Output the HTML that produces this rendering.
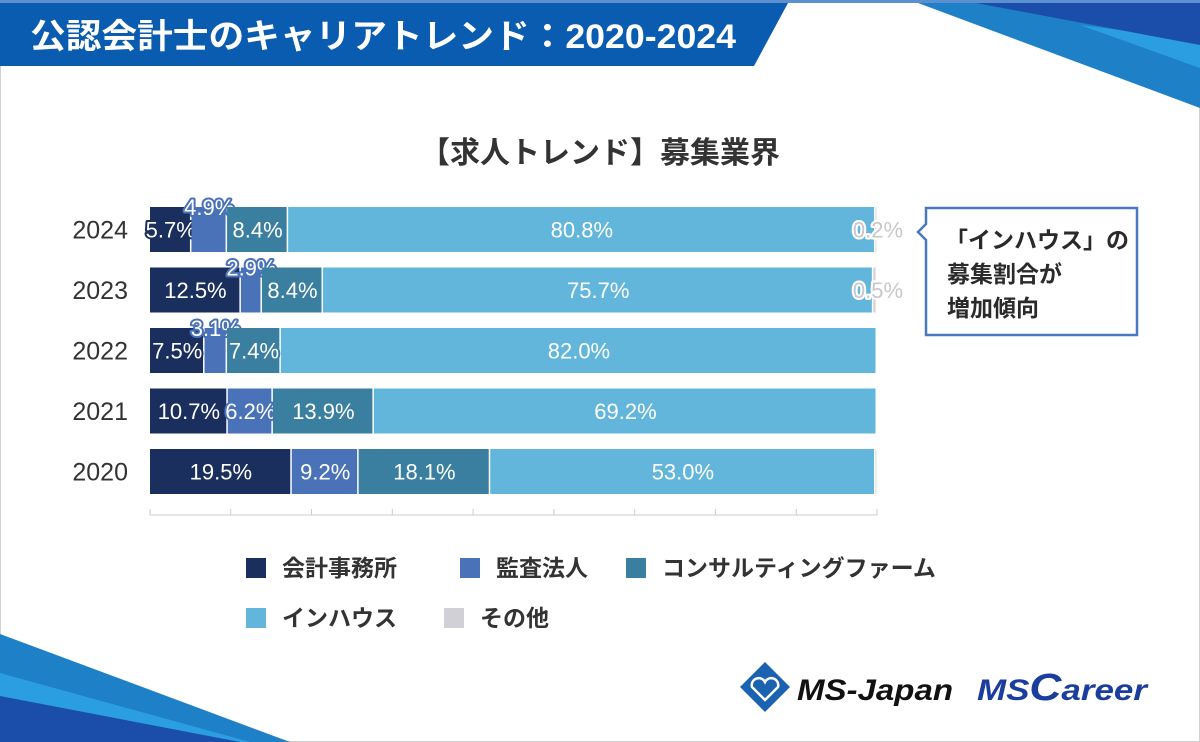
<!DOCTYPE html>
<html><head><meta charset="utf-8"><style>
html,body{margin:0;padding:0;background:#fff}
svg{display:block}
text{font-family:"Liberation Sans","Noto Sans CJK JP",sans-serif}
</style></head><body>
<svg width="1200" height="742" viewBox="0 0 1200 742">
<rect x="0.5" y="0.5" width="1199" height="741" fill="#fff" stroke="#d0d0d0"/>
<g>
<polygon points="910,0 1200,0 1200,108" fill="#1e80c6"/>
<polygon points="1080,25 1200,40 1200,68" fill="#2a9ee0"/>
<polygon points="960,0 1200,0 1200,45" fill="#1b4eaa"/>
</g>
<g>
<polygon points="0,634 290,742 0,742" fill="#1e80c6"/>
<polygon points="0,673 250,742 0,742" fill="#2a9ee0"/>
<polygon points="0,696 240,742 0,742" fill="#1b4eaa"/>
</g>
<rect x="0" y="0" width="1200" height="3" fill="#5b8fd0"/>
<polygon points="0,3 788,3 754,66 0,66" fill="#0a5cb0"/>
<text x="30" y="48" font-size="34" font-weight="bold" fill="#fff" textLength="706" lengthAdjust="spacingAndGlyphs">公認会計士のキャリアトレンド：2020-2024</text>
<text x="600" y="163" font-size="30" font-weight="bold" fill="#333" text-anchor="middle">【求人トレンド】募集業界</text>
<g id="axis"></g>
<g id="bars"></g>
<g>
<path d="M926,208 L1137,208 L1137,335 L926,335 L926,240 L918,232 L926,224 Z" fill="#fff" stroke="#4a78c0" stroke-width="2.5"/>
<text font-size="23" font-weight="bold" fill="#2a2a2a"><tspan x="945" y="248">「インハウス」の</tspan><tspan x="947" y="282">募集割合が</tspan><tspan x="947" y="316">増加傾向</tspan></text>
</g>
<g id="legend"></g>
<g>
<polygon points="765,662 790,687 765,712 740,687" fill="#1b62b0"/>
<path d="M765,700 L752,687 a7,7 0 0 1 13,-5 a7,7 0 0 1 13,5 Z" fill="none" stroke="#fff" stroke-width="2.5"/>
<text x="797" y="700" font-size="30" font-weight="bold" font-style="italic" fill="#111" textLength="156" lengthAdjust="spacingAndGlyphs">MS-Japan</text>
</g>
<text x="977" y="700" font-size="30" font-weight="bold" font-style="italic" fill="#1b3e9e" textLength="170" lengthAdjust="spacingAndGlyphs">MS<tspan font-size="38">C</tspan>areer</text>
<script>
const years=["2024","2023","2022","2021","2020"];
const kaikei=[5.7,12.5,7.5,10.7,19.5];
const kansa=[4.9,2.9,3.1,6.2,9.2];
const consul=[8.4,8.4,7.4,13.9,18.1];
const inhouse=[80.8,75.7,82.0,69.2,53.0];
const other=[0.2,0.5,0,0,0.2];
const otherLabels=["0.2%","0.5%","","",""];
const seriesNames=["会計事務所","監査法人","コンサルティングファーム","インハウス","その他"];
const colors=["#1b2f5e","#4a72b8","#3a7fa0","#62b6dc","#d0d0d6"];
const NS="http://www.w3.org/2000/svg";
const X0=150,X1=877;
const xs=v=>X0+(X1-X0)*v/100;
const ys=i=>207+i*60.5;
const BH=45;
function mk(t,a,p){const e=document.createElementNS(NS,t);for(const k in a)e.setAttribute(k,a[k]);p.appendChild(e);return e;}
const axis=document.getElementById('axis');
const al=mk('line',{x1:X0,x2:X1,y1:515,y2:515,stroke:'#ccc','stroke-width':1},axis);


for(let i=0;i<=9;i++){const x=X0+(X1-X0)*i/9;const t=mk('line',{x1:x,x2:x,y1:509,y2:515,stroke:'#ccc'},axis);

}
const bars=document.getElementById('bars');
const series=[kaikei,kansa,consul,inhouse,other];
years.forEach((y,i)=>{
 const yl=mk('text',{x:128,y:ys(i)+BH/2+9,'font-size':25,fill:'#333','text-anchor':'end'},bars);
 yl.textContent=y;
 
 
 let cum=0;
 series.forEach((s,k)=>{
  const v=s[i];if(v<=0){return;}
  const x=xs(cum),w=xs(cum+v)-x;
  const r=mk('rect',{x:x,y:ys(i),width:Math.max(w-1.5,0.8),height:BH,fill:colors[k]},bars);
  
  
  let label=null,cx=x+w/2,cy=ys(i)+BH/2+8,fill='#fff',stroke=null;
  if(k<4){label=v.toFixed(1)+'%';
    if(v<5&&k===1){cy=ys(i)+8;stroke=colors[1];}
    else if(v<9){stroke=colors[k];}
  } else if(otherLabels[i]){label=otherLabels[i];cx=X1+1;fill='#c8c8cc';stroke='#fff';}
  if(label){
   const a={x:cx,y:cy,'font-size':22,fill:fill,'text-anchor':'middle'};
   if(stroke){a.stroke=stroke;a['stroke-width']=4;a['paint-order']='stroke';a['stroke-linejoin']='round';}
   const t=mk('text',a,bars);t.textContent=label;
   
   
  }
  cum+=v;
 });
});
const lg=document.getElementById('legend');
const lpos=[[246,568],[460,568],[626,568],[246,618],[444,618]];
seriesNames.forEach((n,k)=>{
 const g=mk('g',{},lg);
 
 
 mk('rect',{x:lpos[k][0],y:lpos[k][1]-10,width:20,height:20,fill:colors[k]},g);
 const t=mk('text',{x:lpos[k][0]+36,y:lpos[k][1]+8,'font-size':23,'font-weight':'bold',fill:'#333'},g);
 t.textContent=n;
});
</script>
</svg>
</body></html>
